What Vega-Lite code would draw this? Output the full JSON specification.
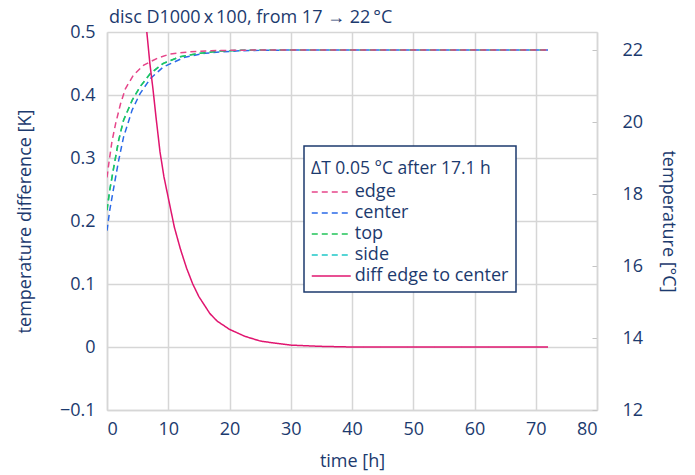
{
  "$schema": "https://vega.github.io/schema/vega-lite/v6.json",
  "width": 490,
  "height": 378,
  "autosize": {"type": "none"},
  "padding": {"left": 107, "top": 32, "right": 98, "bottom": 65},
  "background": "white",
  "title": {
    "text": "disc D1000\u2009x\u2009100, from 17 \u2192 22\u2009°C",
    "anchor": "start",
    "frame": "group",
    "offset": -4,
    "fontSize": 18,
    "fontWeight": "normal",
    "color": "#1c3a6e",
    "font": "Open Sans",
    "dx": 2
  },
  "config": {
    "font": "Open Sans",
    "view": {"stroke": null},
    "axis": {
      "labelFont": "Open Sans",
      "titleFont": "Open Sans",
      "labelColor": "#1c3a6e",
      "titleColor": "#1c3a6e",
      "labelFontSize": 18,
      "titleFontSize": 18,
      "titleFontWeight": "normal",
      "gridColor": "#d6d6d6",
      "gridWidth": 1.5,
      "domainColor": "#d6d6d6",
      "domainWidth": 1.5,
      "tickColor": "#c4c4c4"
    },
    "legend": {
      "orient": "none",
      "legendX": 197,
      "legendY": 114,
      "strokeColor": "#1c3a6e",
      "strokeWidth": 1.5,
      "fillColor": "white",
      "padding": 7,
      "titleFont": "Open Sans",
      "labelFont": "Open Sans",
      "titleFontSize": 17.5,
      "titleFontWeight": "normal",
      "titleColor": "#1c3a6e",
      "titleLineHeight": 7,
      "titleLimit": 400,
      "labelLimit": 400,
      "labelFontSize": 18,
      "labelColor": "#1c3a6e",
      "symbolType": "M-2,0H2",
      "symbolSize": 380,
      "symbolStrokeWidth": 1.5,
      "symbolOffset": 9.75,
      "labelOffset": 13,
      "rowPadding": 1,
      "titlePadding": 4
    }
  },
  "datasets": {
    "temps": [
      {"s": "edge", "t": 0, "v": 18.46},
      {"s": "edge", "t": 0.3, "v": 18.85},
      {"s": "edge", "t": 0.8, "v": 19.45},
      {"s": "edge", "t": 1.4, "v": 19.95},
      {"s": "edge", "t": 2.2, "v": 20.5},
      {"s": "edge", "t": 3, "v": 20.92},
      {"s": "edge", "t": 4.3, "v": 21.3},
      {"s": "edge", "t": 6, "v": 21.58},
      {"s": "edge", "t": 8.2, "v": 21.77},
      {"s": "edge", "t": 10.3, "v": 21.89},
      {"s": "edge", "t": 13.5, "v": 21.95},
      {"s": "edge", "t": 17, "v": 21.98},
      {"s": "edge", "t": 20, "v": 21.99},
      {"s": "edge", "t": 25, "v": 22.0},
      {"s": "edge", "t": 30, "v": 22.0},
      {"s": "edge", "t": 40, "v": 22.0},
      {"s": "edge", "t": 50, "v": 22.0},
      {"s": "edge", "t": 60, "v": 22.0},
      {"s": "edge", "t": 72, "v": 22.0},
      {"s": "center", "t": 0, "v": 16.98},
      {"s": "center", "t": 0.43, "v": 17.53},
      {"s": "center", "t": 1.1, "v": 18.18},
      {"s": "center", "t": 1.9, "v": 18.93},
      {"s": "center", "t": 2.7, "v": 19.58},
      {"s": "center", "t": 4.1, "v": 20.33},
      {"s": "center", "t": 5.4, "v": 20.79},
      {"s": "center", "t": 7.1, "v": 21.21},
      {"s": "center", "t": 9.2, "v": 21.53},
      {"s": "center", "t": 12.7, "v": 21.8},
      {"s": "center", "t": 16, "v": 21.91},
      {"s": "center", "t": 18.9, "v": 21.95},
      {"s": "center", "t": 22, "v": 21.98},
      {"s": "center", "t": 25, "v": 21.99},
      {"s": "center", "t": 30, "v": 22.0},
      {"s": "center", "t": 40, "v": 22.0},
      {"s": "center", "t": 50, "v": 22.0},
      {"s": "center", "t": 60, "v": 22.0},
      {"s": "center", "t": 72, "v": 22.0},
      {"s": "top", "t": 0, "v": 17.55},
      {"s": "top", "t": 0.43, "v": 18.09},
      {"s": "top", "t": 1.1, "v": 18.74},
      {"s": "top", "t": 1.9, "v": 19.49},
      {"s": "top", "t": 2.7, "v": 20.05},
      {"s": "top", "t": 4.1, "v": 20.6},
      {"s": "top", "t": 5.4, "v": 20.98},
      {"s": "top", "t": 7.1, "v": 21.35},
      {"s": "top", "t": 9.2, "v": 21.63},
      {"s": "top", "t": 11.9, "v": 21.81},
      {"s": "top", "t": 15.2, "v": 21.91},
      {"s": "top", "t": 18.4, "v": 21.97},
      {"s": "top", "t": 22, "v": 21.99},
      {"s": "top", "t": 25, "v": 22.0},
      {"s": "top", "t": 30, "v": 22.0},
      {"s": "top", "t": 40, "v": 22.0},
      {"s": "top", "t": 50, "v": 22.0},
      {"s": "top", "t": 60, "v": 22.0},
      {"s": "top", "t": 72, "v": 22.0},
      {"s": "side", "t": 0, "v": 17.55},
      {"s": "side", "t": 0.43, "v": 18.09},
      {"s": "side", "t": 1.1, "v": 18.74},
      {"s": "side", "t": 1.9, "v": 19.49},
      {"s": "side", "t": 2.7, "v": 20.05},
      {"s": "side", "t": 4.1, "v": 20.6},
      {"s": "side", "t": 5.4, "v": 20.98},
      {"s": "side", "t": 7.1, "v": 21.35},
      {"s": "side", "t": 9.2, "v": 21.63},
      {"s": "side", "t": 11.9, "v": 21.81},
      {"s": "side", "t": 15.2, "v": 21.91},
      {"s": "side", "t": 18.4, "v": 21.97},
      {"s": "side", "t": 22, "v": 21.99},
      {"s": "side", "t": 25, "v": 22.0},
      {"s": "side", "t": 30, "v": 22.0},
      {"s": "side", "t": 40, "v": 22.0},
      {"s": "side", "t": 50, "v": 22.0},
      {"s": "side", "t": 60, "v": 22.0},
      {"s": "side", "t": 72, "v": 22.0}
    ],
    "diff": [
      {"s": "diff edge to center", "t": 6.0, "v": 0.56},
      {"s": "diff edge to center", "t": 6.5, "v": 0.5},
      {"s": "diff edge to center", "t": 7.0, "v": 0.45},
      {"s": "diff edge to center", "t": 7.5, "v": 0.41},
      {"s": "diff edge to center", "t": 8.0, "v": 0.365},
      {"s": "diff edge to center", "t": 8.65, "v": 0.31},
      {"s": "diff edge to center", "t": 9.3, "v": 0.27},
      {"s": "diff edge to center", "t": 10, "v": 0.237},
      {"s": "diff edge to center", "t": 11, "v": 0.19},
      {"s": "diff edge to center", "t": 12, "v": 0.155},
      {"s": "diff edge to center", "t": 13, "v": 0.125},
      {"s": "diff edge to center", "t": 14, "v": 0.1},
      {"s": "diff edge to center", "t": 15, "v": 0.08},
      {"s": "diff edge to center", "t": 16.8, "v": 0.053},
      {"s": "diff edge to center", "t": 18, "v": 0.041},
      {"s": "diff edge to center", "t": 20, "v": 0.028},
      {"s": "diff edge to center", "t": 22.5, "v": 0.017},
      {"s": "diff edge to center", "t": 25, "v": 0.0095},
      {"s": "diff edge to center", "t": 27.5, "v": 0.006},
      {"s": "diff edge to center", "t": 30, "v": 0.003},
      {"s": "diff edge to center", "t": 35, "v": 0.001},
      {"s": "diff edge to center", "t": 40, "v": 0.0},
      {"s": "diff edge to center", "t": 50, "v": 0.0},
      {"s": "diff edge to center", "t": 60, "v": 0.0},
      {"s": "diff edge to center", "t": 72, "v": 0.0}
    ]
  },
  "layer": [
    {
      "data": {"name": "temps"},
      "encoding": {
        "x": {
          "field": "t", "type": "quantitative",
          "scale": {"domain": [0, 80], "nice": false},
          "axis": {"title": "time [h]", "values": [0, 10, 20, 30, 40, 50, 60, 70, 80], "ticks": false, "labelPadding": 10, "titlePadding": 14, "grid": true}
        },
        "y": {
          "field": "v", "type": "quantitative",
          "scale": {"domain": [12, 22.5], "nice": false, "zero": false},
          "axis": {"orient": "right", "title": "temperature [°C]", "values": [12, 14, 16, 18, 20, 22], "grid": false, "tickSize": -5, "labelPadding": 30, "titlePadding": 16, "domain": true}
        },
        "color": {
          "field": "s", "type": "nominal",
          "scale": {"domain": ["edge", "center", "top", "side", "diff edge to center"], "range": ["#e6468a", "#2a6ae8", "#22c45a", "#1fc8c8", "#e0156f"]},
          "legend": {"title": ["", "\u0394T 0.05 °C after 17.1 h"]}
        },
        "strokeDash": {
          "field": "s", "type": "nominal",
          "scale": {"domain": ["edge", "center", "top", "side", "diff edge to center"], "range": [[6, 4], [6, 4], [6, 4], [6, 4], [1, 0]]},
          "legend": {"title": ["", "\u0394T 0.05 °C after 17.1 h"]}
        }
      },
      "layer": [
        {"transform": [{"filter": "datum.s === 'side'"}], "mark": {"type": "line", "strokeWidth": 1.5, "clip": true}},
        {"transform": [{"filter": "datum.s === 'center'"}], "mark": {"type": "line", "strokeWidth": 1.5, "clip": true}},
        {"transform": [{"filter": "datum.s === 'top'"}], "mark": {"type": "line", "strokeWidth": 1.5, "clip": true}},
        {"transform": [{"filter": "datum.s === 'edge'"}], "mark": {"type": "line", "strokeWidth": 1.5, "clip": true}}
      ]
    },
    {
      "data": {"name": "diff"},
      "mark": {"type": "line", "strokeWidth": 1.5, "clip": true},
      "encoding": {
        "x": {"field": "t", "type": "quantitative", "scale": {"domain": [0, 80], "nice": false}},
        "y": {
          "field": "v", "type": "quantitative",
          "scale": {"domain": [-0.1, 0.5], "nice": false, "zero": false},
          "axis": {"orient": "left", "title": "temperature difference [K]", "values": [-0.1, 0, 0.1, 0.2, 0.3, 0.4, 0.5], "format": "~f", "grid": true, "ticks": false, "labelPadding": 12, "titlePadding": 25}
        },
        "color": {
          "field": "s", "type": "nominal",
          "scale": {"domain": ["edge", "center", "top", "side", "diff edge to center"], "range": ["#e6468a", "#2a6ae8", "#22c45a", "#1fc8c8", "#e0156f"]},
          "legend": {"title": ["", "\u0394T 0.05 °C after 17.1 h"]}
        },
        "strokeDash": {
          "field": "s", "type": "nominal",
          "scale": {"domain": ["edge", "center", "top", "side", "diff edge to center"], "range": [[6, 4], [6, 4], [6, 4], [6, 4], [1, 0]]},
          "legend": {"title": ["", "\u0394T 0.05 °C after 17.1 h"]}
        }
      }
    }
  ],
  "resolve": {"scale": {"y": "independent"}}
}
